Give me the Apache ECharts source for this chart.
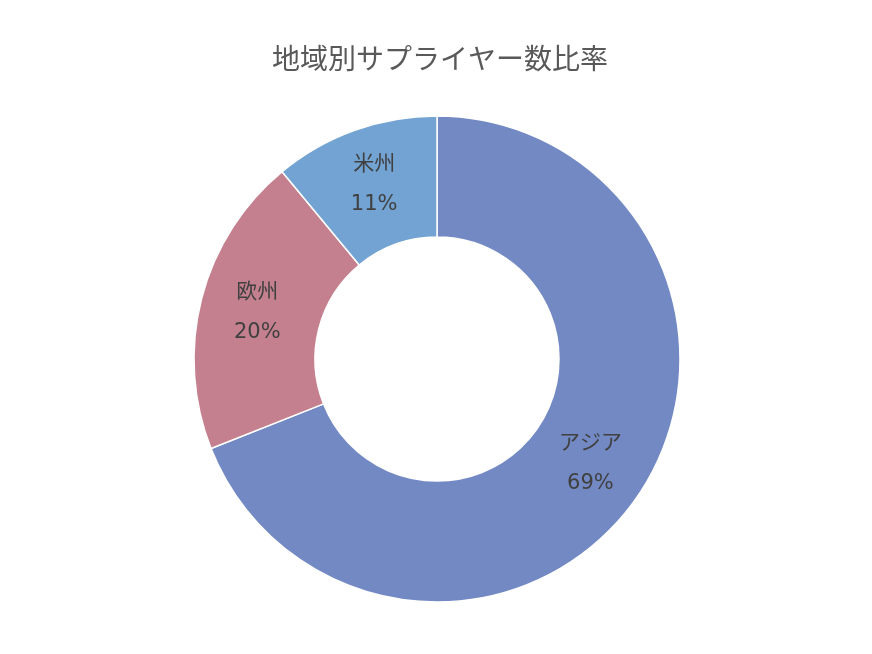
<!DOCTYPE html>
<html><head><meta charset="utf-8">
<script src="https://cdn.jsdelivr.net/npm/echarts@6/dist/echarts.min.js"></script>
<style>html,body{margin:0;padding:0;background:#fff}#c{width:872px;height:654px}</style>
</head><body><div id="c"></div>
<script>
const categories = ['アジア', '欧州', '米州'];
const values = [69, 20, 11];
const colors = ['#7389C4', '#C4808F', '#72A3D3'];
const chart = echarts.init(document.getElementById('c'));
chart.setOption({
  backgroundColor: '#fff',
  title: {
    text: '地域別サプライヤー数比率',
    left: 267, top: 39,
    textStyle: {fontSize: 28, fontWeight: 'normal', color: '#595959', fontFamily: '"Noto Sans CJK JP", sans-serif'}
  },
  series: [{
    type: 'pie',
    center: [437, 359],
    radius: [122, 243],
    startAngle: 90,
    clockwise: true,
    animation: false,
    data: categories.map((c, i) => ({name: c, value: values[i], itemStyle: {color: colors[i]}})),
    itemStyle: {borderColor: '#fff', borderWidth: 1.5},
    label: {
      position: 'inside',
      formatter: p => p.name + '\n' + p.value + '%',
      fontSize: 21,
      lineHeight: 40,
      color: '#404040',
      fontFamily: '"DejaVu Sans", "Noto Sans CJK JP", sans-serif'
    },
    labelLine: {show: false},
    emphasis: {disabled: true}
  }]
});
</script></body></html>
